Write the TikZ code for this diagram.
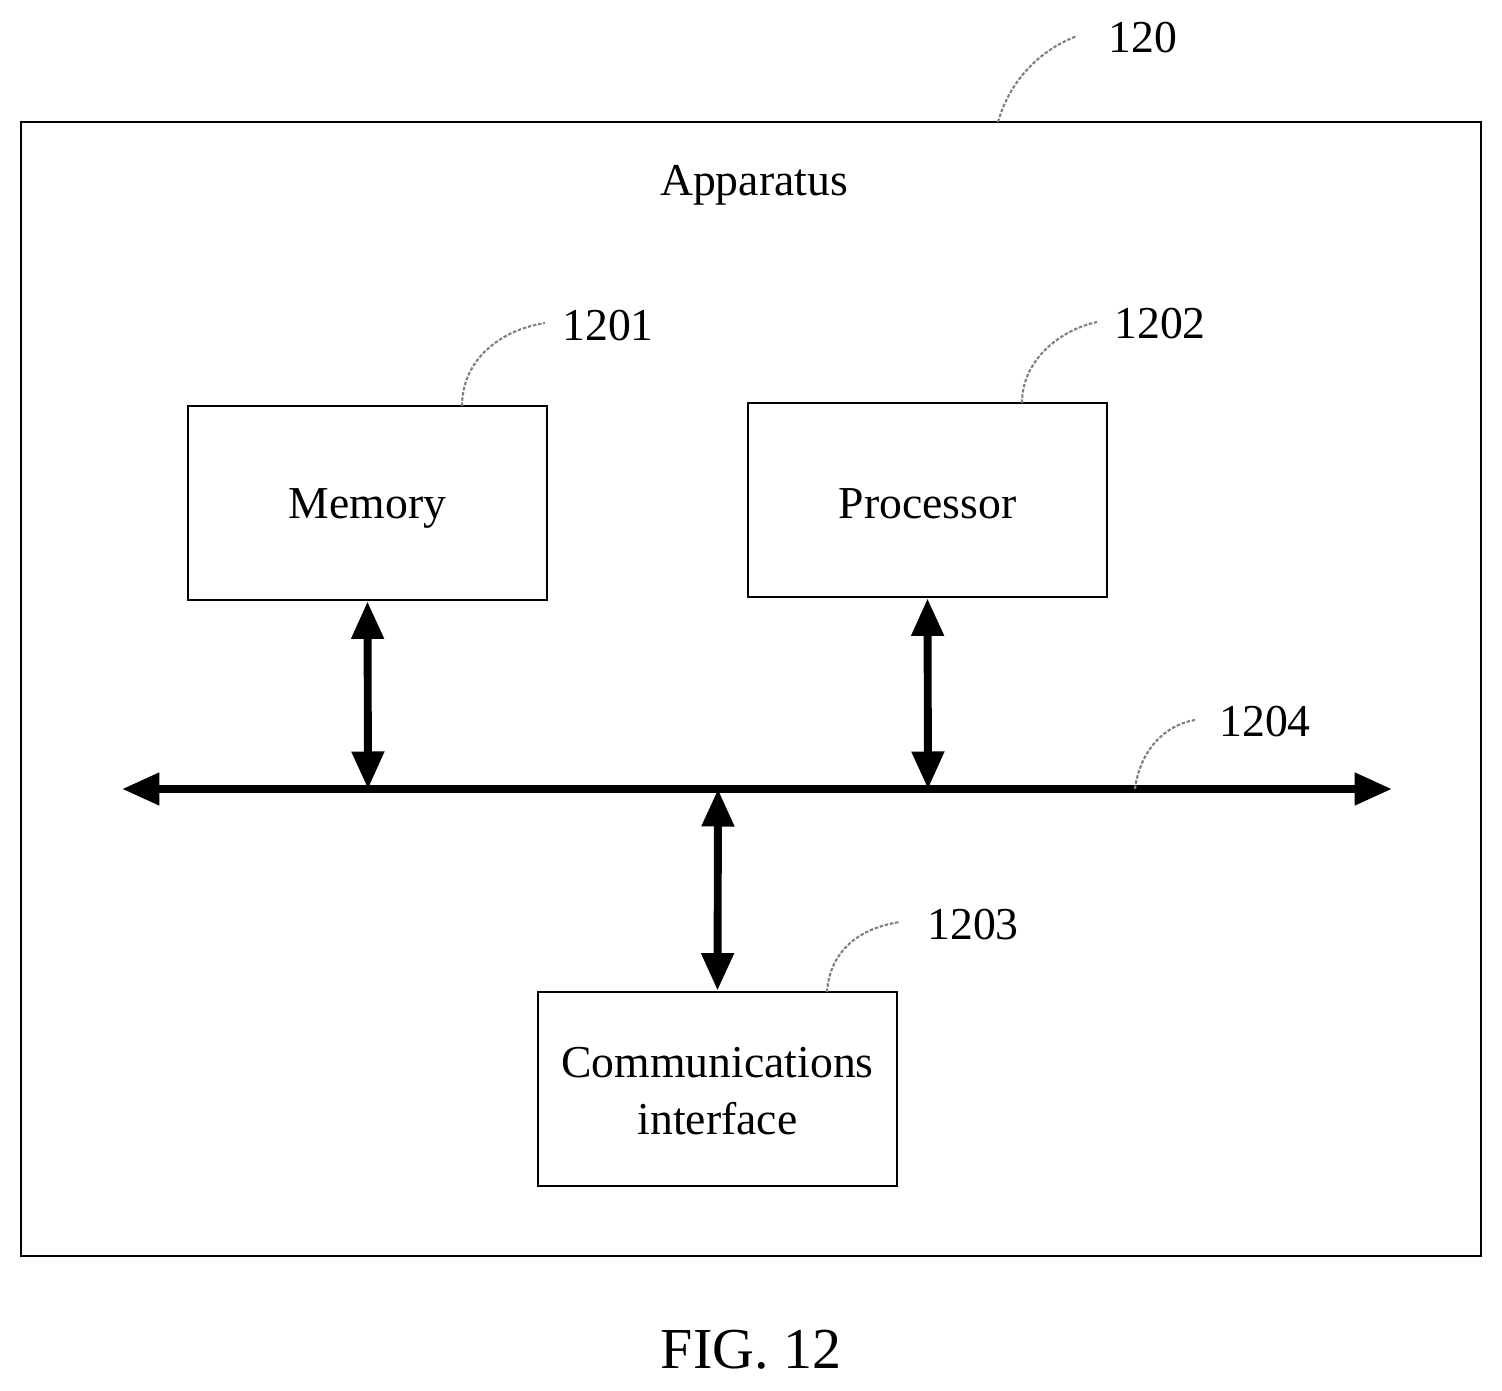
\documentclass[tikz,border=0pt]{standalone}
\usepackage{fontspec}
\setmainfont{Liberation Serif}
\usetikzlibrary{arrows.meta}
\begin{document}
\begin{tikzpicture}[x=0.02cm,y=-0.02cm,
 box/.style={draw,line width=1.6pt,minimum width=7.18cm,minimum height=3.88cm,align=center,font=\fontsize{26}{30}\selectfont},
 lbl/.style={font=\fontsize{26}{30}\selectfont},
 lead/.style={draw=gray,line width=1.2pt,dash pattern=on 2pt off 1pt},
 bus/.style={line width=4.5pt,{Triangle[length=0.75cm,width=0.62cm]}-{Triangle[length=0.75cm,width=0.62cm]}}]
\useasboundingbox (0,0) rectangle (1502,1391);
\draw[line width=1.6pt] (21,122) rectangle (1481,1256);
\node[lbl] (app) at (754,185) {Apparatus};
\node[lbl] (l120) at (1143,38) {120};
\coordinate (c120) at (998,122);
\draw[lead] (c120) .. controls (1010,80) and (1040,50) .. (1077,36);
\node[box] (mem) at (367.5,503) {};
\node[lbl] at (367.5,508) {Memory};
\node[box] (proc) at (927.5,500) {};
\node[lbl] at (927.5,504) {Processor};
\node[box] (comm) at (717.5,1089) {};
\node[lbl,align=center] at (717.5,1091) {Communications\\[2pt]interface};
\node[lbl] (l1201) at (608,326) {1201};
\coordinate (c1201) at (462,406);
\draw[lead] (c1201) .. controls (462,360) and (500,330) .. (545,323);
\node[lbl] (l1202) at (1160,324) {1202};
\coordinate (c1202) at (1022,403);
\draw[lead] (c1202) .. controls (1022,360) and (1060,330) .. (1097,322);
\node[lbl] (l1203) at (973,925) {1203};
\coordinate (c1203) at (827,992);
\draw[lead] (c1203) .. controls (830,950) and (860,928) .. (900,922);
\node[lbl] (l1204) at (1265,722) {1204};
\coordinate (bl) at (122,789);
\coordinate (br) at (1392,789);
\draw[bus] (bl) -- (br);
\coordinate (c1204) at (1135,789);
\draw[lead] (c1204) .. controls (1140,750) and (1165,725) .. (1195,720);
\coordinate (m1) at (368,789);
\coordinate (p1) at (928,789);
\coordinate (k1) at (718,789);
\draw[bus] (mem.south) -- (m1);
\draw[bus] (proc.south) -- (p1);
\draw[bus] (k1) -- (comm.north);
\node[font=\fontsize{33}{36}\selectfont] (fig) at (751,1350) {FIG. 12};
\end{tikzpicture}
\end{document}
